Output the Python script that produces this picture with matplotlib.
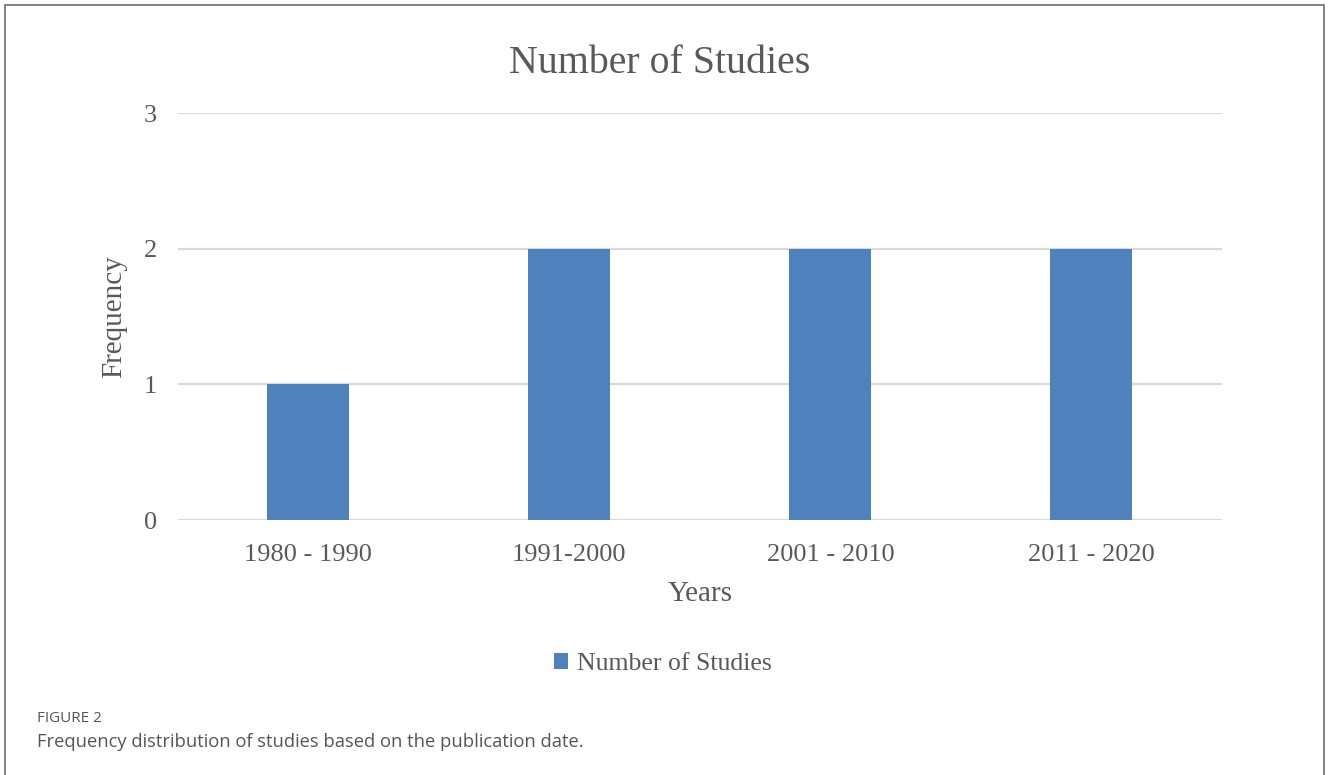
import matplotlib.pyplot as plt
from matplotlib.patches import Rectangle

# data
periods = ["1980 - 1990", "1991-2000", "2001 - 2010", "2011 - 2020"]
studies = [1, 2, 2, 2]
y_ticks = [0, 1, 2, 3]

bar_color = "#4f81bd"
text_color = "#595959"
serif = ["Liberation Serif", "DejaVu Serif"]

fig = plt.figure(figsize=(13.28, 7.75), dpi=100)
ax = fig.add_axes([0.134, 0.329, 0.786, 0.525])

x = range(len(periods))
ax.bar(x, studies, width=0.314, color=bar_color, label="Number of Studies", zorder=3)

ax.set_xlim(-0.5, len(periods) - 0.5)
ax.set_ylim(0, 3)
ax.set_yticks(y_ticks)
ax.set_xticks(list(x))
ax.set_xticklabels(periods)
ax.grid(axis="y", color="#d9d9d9", linewidth=1.6, zorder=0)
for s in ax.spines.values():
    s.set_visible(False)
ax.tick_params(length=0, labelsize=19, colors=text_color)
ax.tick_params(axis="x", pad=17)
ax.tick_params(axis="y", pad=15)
for lbl in ax.get_xticklabels() + ax.get_yticklabels():
    lbl.set_family(serif)

ax.set_xlabel("Years", fontsize=21, color=text_color, family=serif, labelpad=11)
ax.set_ylabel("Frequency", fontsize=21, color=text_color, family=serif, labelpad=12)
fig.text(0.497, 0.918, "Number of Studies", ha="center", va="center",
         fontsize=28.7, color=text_color, family=serif)

leg = fig.legend(loc="center", bbox_to_anchor=(0.499, 0.143), frameon=False,
                 prop={"family": serif, "size": 18.5}, handlelength=0.55,
                 handleheight=0.55, handletextpad=0.35)
for t in leg.get_texts():
    t.set_color(text_color)

# caption
fig.text(0.028, 0.073, "FIGURE 2", fontsize=11, color="#555555",
         family="Open Sans", va="center")
fig.text(0.028, 0.043, "Frequency distribution of studies based on the publication date.",
         fontsize=13.2, color="#555555", family="Open Sans", va="center")

# frame around figure
fig.patches.append(Rectangle((0.0035, -0.01), 0.9935, 1.003, transform=fig.transFigure,
                             fill=False, edgecolor="#777777", linewidth=1.3))

fig.savefig("out.png", dpi=100)
